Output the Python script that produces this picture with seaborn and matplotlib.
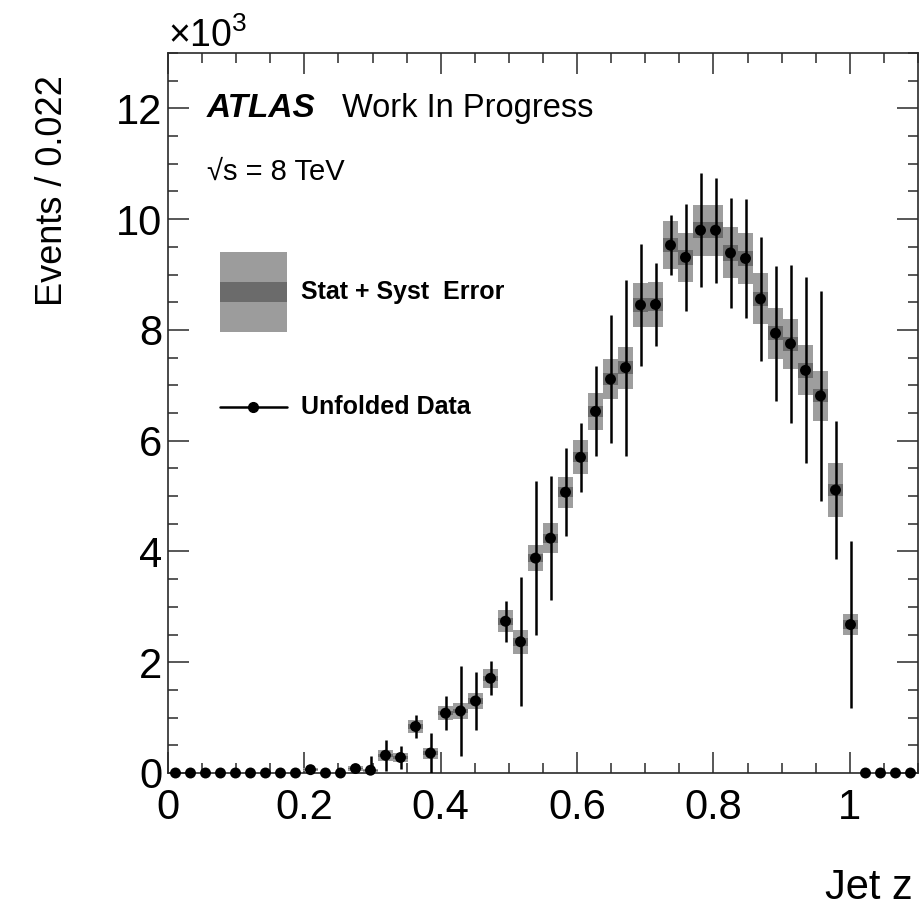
import numpy as np
import pandas as pd
import seaborn as sns
import matplotlib
matplotlib.use("Agg")
import matplotlib.pyplot as plt
from matplotlib.ticker import MultipleLocator, FuncFormatter
from matplotlib.patches import Rectangle

# Jet z histogram, bins of width 0.022 from 0 to 1.1 (values in units of 10^3 events)
bin_width = 0.022
z_centers = [0.011, 0.033, 0.055, 0.077, 0.099, 0.121, 0.143, 0.165, 0.187, 0.209,
             0.231, 0.253, 0.275, 0.297, 0.319, 0.341, 0.363, 0.385, 0.407, 0.429,
             0.451, 0.473, 0.495, 0.517, 0.539, 0.561, 0.583, 0.605, 0.627, 0.649,
             0.671, 0.693, 0.715, 0.737, 0.759, 0.781, 0.803, 0.825, 0.847, 0.869,
             0.891, 0.913, 0.935, 0.957, 0.979, 1.001, 1.023, 1.045, 1.067, 1.089]

events = [0.00, 0.00, 0.00, 0.00, 0.00, 0.00, 0.00, 0.00, 0.00, 0.06,
          0.00, 0.00, 0.08, 0.05, 0.32, 0.28, 0.84, 0.36, 1.08, 1.12,
          1.30, 1.71, 2.74, 2.37, 3.88, 4.24, 5.07, 5.70, 6.53, 7.11,
          7.32, 8.45, 8.46, 9.53, 9.31, 9.80, 9.80, 9.39, 9.29, 8.56,
          7.94, 7.75, 7.27, 6.81, 5.11, 2.68, 0.00, 0.00, 0.00, 0.00]

# half-length of the vertical error bars
bar_err = [0.00, 0.00, 0.00, 0.00, 0.00, 0.00, 0.00, 0.00, 0.00, 0.03,
           0.00, 0.00, 0.04, 0.26, 0.28, 0.21, 0.21, 0.37, 0.31, 0.81,
           0.53, 0.31, 0.37, 1.16, 1.39, 1.12, 0.79, 0.62, 0.81, 1.16,
           1.59, 1.10, 0.75, 0.54, 0.96, 1.03, 0.95, 1.00, 1.07, 1.12,
           1.22, 1.43, 1.68, 1.90, 1.24, 1.51, 0.00, 0.00, 0.00, 0.00]

# half-height of the total (stat + syst) band
band_tot = [0.00, 0.00, 0.00, 0.00, 0.00, 0.00, 0.00, 0.00, 0.00, 0.03,
            0.00, 0.00, 0.04, 0.03, 0.10, 0.08, 0.11, 0.10, 0.13, 0.14,
            0.15, 0.17, 0.20, 0.22, 0.24, 0.27, 0.28, 0.31, 0.34, 0.36,
            0.38, 0.40, 0.41, 0.43, 0.44, 0.46, 0.46, 0.46, 0.46, 0.46,
            0.46, 0.45, 0.45, 0.45, 0.49, 0.19, 0.00, 0.00, 0.00, 0.00]

# half-height of the inner (darker) band
band_in = [0.00, 0.00, 0.00, 0.00, 0.00, 0.00, 0.00, 0.00, 0.00, 0.01,
           0.00, 0.00, 0.01, 0.01, 0.03, 0.03, 0.04, 0.03, 0.04, 0.04,
           0.05, 0.05, 0.06, 0.07, 0.07, 0.08, 0.09, 0.09, 0.10, 0.11,
           0.11, 0.12, 0.12, 0.13, 0.13, 0.14, 0.14, 0.14, 0.14, 0.13,
           0.13, 0.13, 0.13, 0.12, 0.11, 0.08, 0.00, 0.00, 0.00, 0.00]

x_ticks = [0, 0.2, 0.4, 0.6, 0.8, 1.0]
y_ticks = [0, 2, 4, 6, 8, 10, 12]

df = pd.DataFrame({"z": z_centers, "events": events, "err": bar_err,
                   "tot": band_tot, "inner": band_in})

sns.set_theme(style="ticks")
plt.rcParams["font.family"] = ["Liberation Sans", "DejaVu Sans"]
plt.rcParams["mathtext.fontset"] = "custom"
plt.rcParams["mathtext.rm"] = "Liberation Sans"
plt.rcParams["mathtext.it"] = "Liberation Sans:italic"
for key in ("text.color", "axes.labelcolor", "xtick.labelcolor", "ytick.labelcolor"):
    plt.rcParams[key] = "black"

W, H = 921, 909
fig = plt.figure(figsize=(W / 100, H / 100), dpi=100)
fig.patch.set_facecolor("white")
ax = fig.add_axes([168 / W, 1 - 773 / H, (918 - 168) / W, (773 - 53) / H])
ax.set_facecolor("white")

light = "#9e9e9e"
dark = "#6c6c6c"

# uncertainty boxes
ax.bar(df["z"], 2 * df["tot"], bottom=df["events"] - df["tot"], width=bin_width,
       color=light, linewidth=0, zorder=2)
ax.bar(df["z"], 2 * df["inner"], bottom=df["events"] - df["inner"], width=bin_width,
       color=dark, linewidth=0, zorder=3)

# vertical error bars
has_err = df["err"] > 0
ax.vlines(df.loc[has_err, "z"], (df["events"] - df["err"])[has_err].clip(lower=0),
          (df["events"] + df["err"])[has_err], colors="black", linewidth=1.8, zorder=4)

# data points
sns.scatterplot(data=df, x="z", y="events", ax=ax, color="black", s=62,
                edgecolor="none", zorder=5, clip_on=False, legend=False)

ax.set_xlim(0, 1.1)
ax.set_ylim(0, 13)
ax.set_xlabel("")
ax.set_ylabel("")

ax.xaxis.set_minor_locator(MultipleLocator(0.05))
ax.yaxis.set_minor_locator(MultipleLocator(0.5))
ax.set_xticks(x_ticks)
ax.set_yticks(y_ticks)
ax.xaxis.set_major_formatter(FuncFormatter(lambda v, p: f"{v:g}"))
ax.yaxis.set_major_formatter(FuncFormatter(lambda v, p: f"{v:g}"))

axis_col = "#2a2a2a"
for s in ax.spines.values():
    s.set_linewidth(1.2)
    s.set_color(axis_col)
    s.set_visible(True)
ax.tick_params(which="both", direction="in", top=True, right=True,
               color=axis_col, width=1.1)
ax.tick_params(which="major", length=15)
ax.tick_params(which="minor", length=7.5)
ax.tick_params(axis="x", which="major", labelsize=30, pad=11)
ax.tick_params(axis="y", which="major", labelsize=30, pad=4)


def fx(px):
    return px / W


def fy(py):
    return 1 - py / H


# axis multiplier and titles
fig.text(fx(168), fy(47), r"×10$^{3}$", fontsize=27, ha="left", va="baseline")
fig.text(fx(70), fy(75), "Events / 0.022", fontsize=26, rotation=90,
         ha="right", va="top")
fig.text(fx(913), fy(899), "Jet z", fontsize=30, ha="right", va="baseline")

# experiment labels
fig.text(fx(207), fy(117), "ATLAS", fontsize=24, fontweight="bold",
         fontstyle="italic", ha="left", va="baseline")
fig.text(fx(342), fy(117), "Work In Progress", fontsize=23.5, ha="left", va="baseline")
fig.text(fx(207), fy(180), "√s = 8 TeV", fontsize=21, ha="left", va="baseline")

# legend drawn in data coordinates
ax.add_patch(Rectangle((0.0762, 7.97), 0.0982, 1.44, facecolor="#9c9c9c",
                       edgecolor="none", zorder=6))
ax.add_patch(Rectangle((0.0762, 8.51), 0.0982, 0.35, facecolor="#6b6b6b",
                       edgecolor="none", zorder=7))
ax.text(0.195, 8.69, "Stat + Syst  Error", fontsize=18, fontweight="bold",
        ha="left", va="center", zorder=8)
ax.plot([0.0762, 0.1744], [6.61, 6.61], color="black", linewidth=1.8, zorder=6)
ax.plot([0.1253], [6.61], marker="o", color="black", markersize=7, zorder=7)
ax.text(0.195, 6.61, "Unfolded Data", fontsize=18, fontweight="bold",
        ha="left", va="center", zorder=8)

fig.savefig("out.png", dpi=100, facecolor="white")
